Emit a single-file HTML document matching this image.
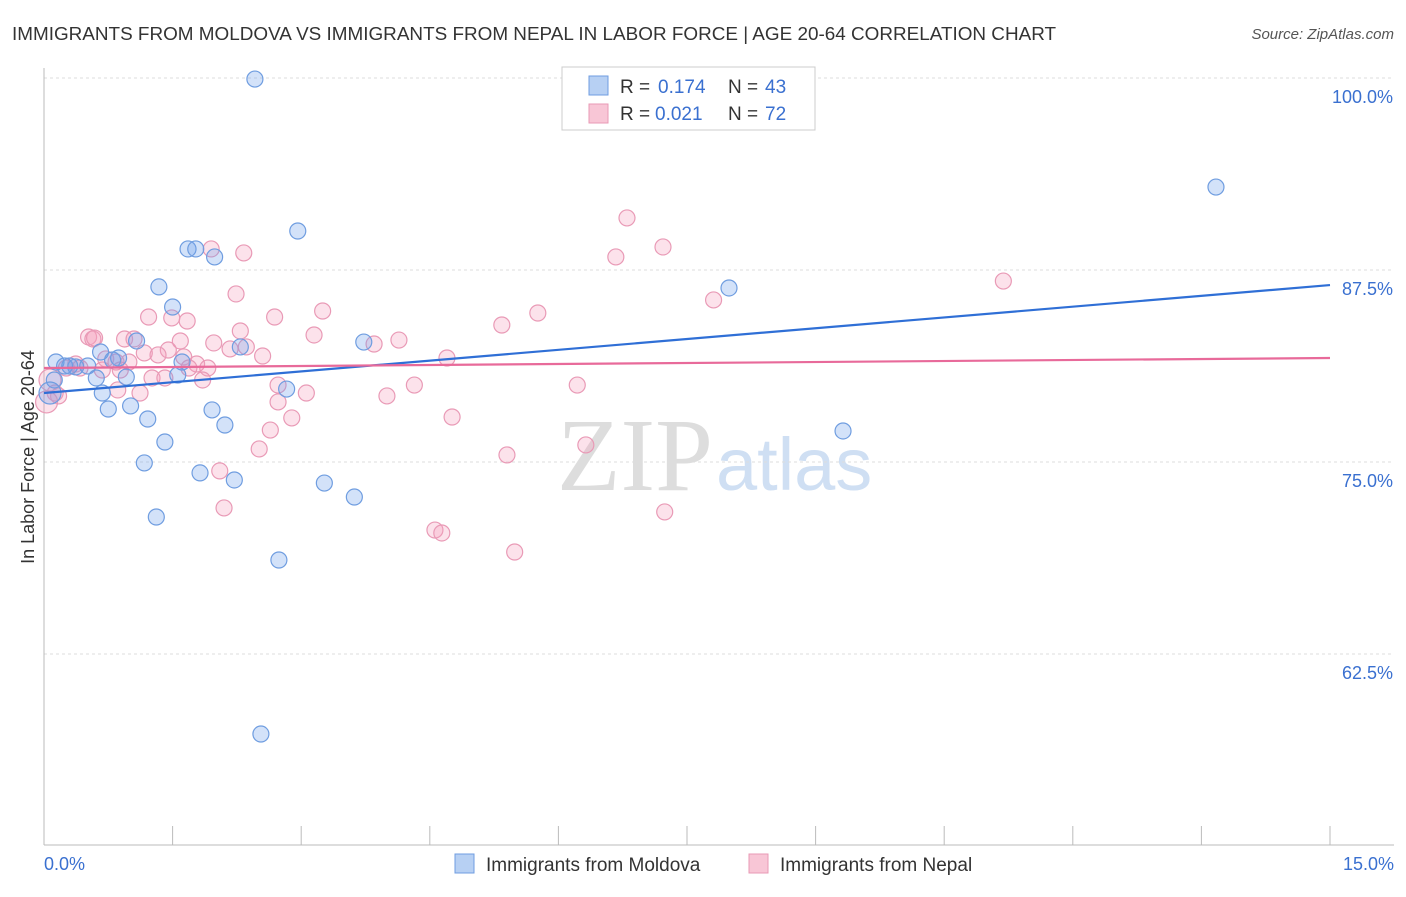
<!DOCTYPE html>
<html><head><meta charset="utf-8"><style>
body{margin:0;background:#fff;font-family:"Liberation Sans",sans-serif;}
</style></head><body>
<svg id="chart" width="1406" height="892" xmlns="http://www.w3.org/2000/svg">
<text x="12" y="40" font-size="18.9" fill="#333">IMMIGRANTS FROM MOLDOVA VS IMMIGRANTS FROM NEPAL IN LABOR FORCE | AGE 20-64 CORRELATION CHART</text>
<text x="1394" y="39" font-size="15" fill="#555" font-style="italic" text-anchor="end">Source: ZipAtlas.com</text>
<text x="713" y="490" font-size="104" fill="#ddd" text-anchor="end" font-family="Liberation Serif">ZIP</text>
<text x="716" y="490" font-size="74" fill="#cfdff3">atlas</text>
<g id="grid"></g><g id="axes"></g><g id="trend"></g><g id="pts"></g>
<text transform="translate(34,457) rotate(-90)" font-size="18" fill="#333" text-anchor="middle">In Labor Force | Age 20-64</text>
<text x="44" y="870" font-size="18" fill="#3a70d0">0.0%</text>
<text x="1394" y="870" font-size="18" fill="#3a70d0" text-anchor="end">15.0%</text>
<g>
<rect x="562" y="67" width="253" height="63" fill="#fff" stroke="#ccc"/>
<rect x="589" y="76" width="19" height="19" fill="#b7d0f3" stroke="#6f9de0"/>
<rect x="589" y="104" width="19" height="19" fill="#f8c6d6" stroke="#e89ab5"/>
<text x="620" y="93" font-size="19" fill="#333">R =</text>
<text x="658" y="93" font-size="19" fill="#3a70d0">0.174</text>
<text x="728" y="93" font-size="19" fill="#333">N =</text>
<text x="765" y="93" font-size="19" fill="#3a70d0">43</text>
<text x="620" y="120" font-size="19" fill="#333">R =</text>
<text x="655" y="120" font-size="19" fill="#3a70d0">0.021</text>
<text x="728" y="120" font-size="19" fill="#333">N =</text>
<text x="765" y="120" font-size="19" fill="#3a70d0">72</text>
</g>
<g>
<rect x="455" y="854" width="19" height="19" fill="#b7d0f3" stroke="#6f9de0"/>
<text x="486" y="871" font-size="19" fill="#333">Immigrants from Moldova</text>
<rect x="749" y="854" width="19" height="19" fill="#f8c6d6" stroke="#e89ab5"/>
<text x="780" y="871" font-size="19" fill="#333">Immigrants from Nepal</text>
</g>
</svg>
<script>
const yTicks=[100,87.5,75,62.5];
const yTickLabels=["100.0%","87.5%","75.0%","62.5%"];
const xTicks=[0,1.5,3,4.5,6,7.5,9,10.5,12,13.5,15];
const moldovaX=[2.46,13.67,2.96,1.68,1.77,1.99,1.34,1.50,7.99,1.08,3.73,2.29,0.66,0.87,0.14,0.24,0.51,0.80,1.61,1.56,0.61,0.96,0.12,2.83,0.68,1.01,0.75,1.96,1.21,2.11,9.32,1.41,1.17,1.82,2.22,3.27,3.62,1.31,2.74,2.53,0.37,0.30,0.07];
const moldovaY=[99.93,92.90,90.04,88.87,88.87,88.35,86.40,85.09,86.33,82.88,82.81,82.49,82.16,81.77,81.51,81.25,81.25,81.64,81.51,80.66,80.47,80.53,80.34,79.75,79.49,78.65,78.45,78.39,77.80,77.41,77.02,76.30,74.94,74.29,73.83,73.63,72.72,71.42,68.62,57.29,81.19,81.25,79.49];
const nepalX=[6.80,7.22,6.67,1.95,2.33,11.19,7.81,2.24,3.25,1.22,1.49,1.67,2.69,5.76,5.34,2.29,3.15,0.52,0.57,0.94,1.05,1.59,4.14,1.98,2.17,3.85,2.36,1.45,1.17,1.33,1.63,2.55,4.70,0.72,0.84,0.99,1.78,0.37,0.42,1.69,0.68,1.91,0.89,1.26,1.41,1.85,0.07,2.73,4.32,6.22,0.86,0.13,0.17,3.06,4.00,1.12,2.73,0.03,2.89,4.76,2.64,2.51,6.32,5.40,2.05,2.10,7.24,4.56,4.64,5.49,0.59,0.26];
const nepalY=[90.89,89.00,88.35,88.87,88.61,86.78,85.55,85.94,84.83,84.44,84.38,84.18,84.44,84.70,83.92,83.53,83.27,83.14,83.01,83.01,83.01,82.88,82.94,82.75,82.36,82.68,82.49,82.29,82.10,81.97,81.84,81.90,81.77,81.71,81.51,81.51,81.38,81.38,81.12,81.12,80.99,81.12,80.99,80.47,80.47,80.34,80.34,80.01,80.01,80.01,79.69,79.49,79.30,79.49,79.30,79.49,78.91,78.91,77.87,77.93,77.08,75.85,76.11,75.46,74.42,72.01,71.75,70.57,70.38,69.14,83.07,81.12];
const moldovaTrend=[79.49,86.52];
const nepalTrend=[81.12,81.77];
const X=v=>44+v/15*1286, Y=v=>78+(100-v)/12.5*192;
const NS="http://www.w3.org/2000/svg";
function mk(p,t,a){const e=document.createElementNS(NS,t);for(const k in a)e.setAttribute(k,a[k]);p.appendChild(e);return e;}
const grid=document.getElementById('grid'),axes=document.getElementById('axes');
yTicks.forEach((t,i)=>{
 const l=mk(grid,'line',{x1:44,x2:1394,y1:Y(t),y2:Y(t),stroke:'#ddd','stroke-dasharray':'3,3'});
 
 
 const tx=mk(grid,'text',{x:1393,y:Y(t)+25,'font-size':18,fill:'#3a70d0','text-anchor':'end'});tx.textContent=yTickLabels[i];
 
 
});
const ya=mk(axes,'line',{x1:44,x2:44,y1:68,y2:845,stroke:'#bbb'});


const xa=mk(axes,'line',{x1:44,x2:1394,y1:845,y2:845,stroke:'#bbb'});


xTicks.forEach(t=>{const l=mk(axes,'line',{x1:X(t),x2:X(t),y1:826,y2:845,stroke:'#bbb'});
 
 });
const pts=document.getElementById('pts');
function draw(xs,ys,fill,stroke,name){xs.forEach((x,i)=>{
 const r=x<0.1?11:8;
 const c=mk(pts,'circle',{cx:X(x),cy:Y(ys[i]),r:r,fill:fill,stroke:stroke,'stroke-width':1.2});
 
 });}
draw(nepalX,nepalY,'rgba(245,160,190,0.3)','#e99ab6','nepal-point');
draw(moldovaX,moldovaY,'rgba(110,160,235,0.3)','#6f9de0','moldova-point');
const tr=document.getElementById('trend');
const t1=mk(tr,'line',{x1:X(0),x2:X(15),y1:Y(moldovaTrend[0]),y2:Y(moldovaTrend[1]),stroke:'#2f6fd6','stroke-width':2.2});


const t2=mk(tr,'line',{x1:X(0),x2:X(15),y1:Y(nepalTrend[0]),y2:Y(nepalTrend[1]),stroke:'#e86a9a','stroke-width':2.2});


pts.parentNode.appendChild(tr);
</script>
</body></html>
